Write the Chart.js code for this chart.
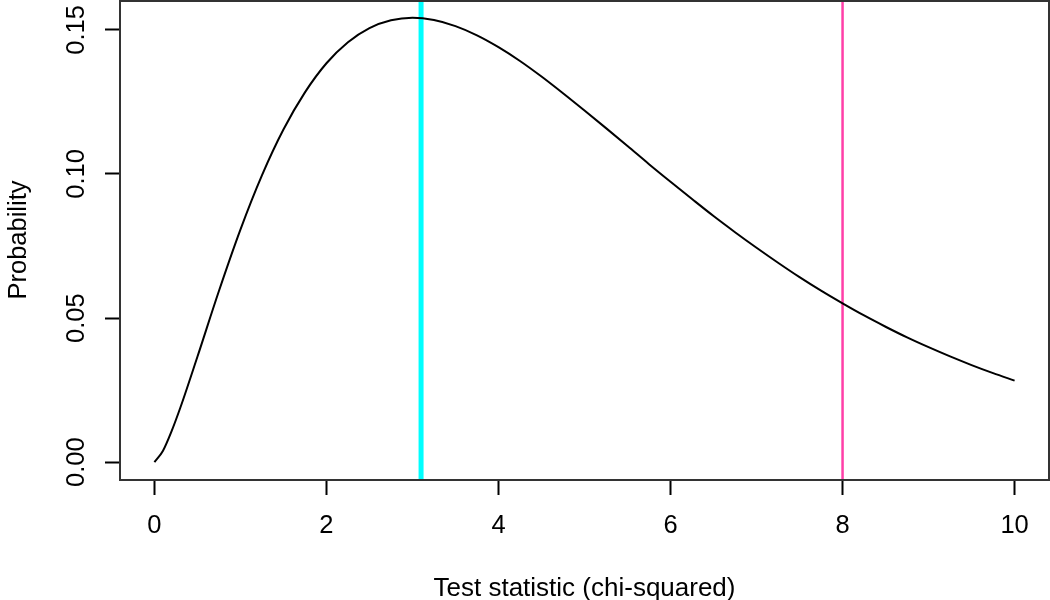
<!DOCTYPE html>
<html>
<head>
<meta charset="utf-8">
<script src="https://cdn.jsdelivr.net/npm/chart.js@4/dist/chart.umd.min.js"></script>
<style>
  html, body { margin: 0; padding: 0; background: #fff; }
  #wrap { width: 1050px; height: 600px; position: relative; }
</style>
</head>
<body>
<div id="wrap"><canvas id="chart"></canvas></div>
<script>
// Curve (x, density)
const curveX = [0, 0.1, 0.2, 0.3, 0.5, 0.75, 1, 1.25, 1.5, 1.75, 2, 2.25, 2.5, 2.75, 3,
  3.25, 3.5, 3.75, 4, 4.25, 4.5, 4.75, 5, 5.25, 5.5, 5.75, 6, 6.25, 6.5, 6.75, 7,
  7.25, 7.5, 7.75, 8, 8.25, 8.5, 8.75, 9, 9.25, 9.5, 9.75, 10];
const curveY = [0, 0.0040, 0.0108, 0.0188, 0.0366, 0.0594, 0.0807, 0.0995, 0.1154, 0.1283,
  0.1384, 0.1457, 0.1506, 0.1533, 0.1542, 0.1534, 0.1513, 0.1481, 0.1440, 0.1392,
  0.1338, 0.1280, 0.1220, 0.1159, 0.1097, 0.1034, 0.0973, 0.0913, 0.0854, 0.0798,
  0.0744, 0.0692, 0.0642, 0.0595, 0.0551, 0.0509, 0.0470, 0.0433, 0.0399, 0.0367,
  0.0337, 0.0309, 0.0283];

// Vertical marker lines
const observedStat = 3.1;
const criticalStat = 8;

const xTicks = [0, 2, 4, 6, 8, 10];
const yTicks = [0, 0.05, 0.10, 0.15];

const FONT = '"Liberation Sans", Arial, Helvetica, sans-serif';

const curveData = curveX.map((x, i) => ({ x: x, y: curveY[i] }));
const vline = x => [{ x: x, y: -1 }, { x: x, y: 1 }];

// box, rotated y labels and axis titles, R style
const rStyle = {
  id: 'rStyle',
  afterDraw(chart) {
    const ctx = chart.ctx;
    const area = chart.chartArea;
    const yScale = chart.scales.y;
    ctx.save();
    ctx.strokeStyle = '#333';
    ctx.lineWidth = 2;
    ctx.strokeRect(area.left, area.top + 1, area.right - area.left, area.bottom - area.top - 1);

    ctx.fillStyle = '#000';
    ctx.font = '25.5px ' + FONT;
    ctx.textAlign = 'center';
    ctx.textBaseline = 'alphabetic';
    yScale.ticks.forEach(t => {
      const py = yScale.getPixelForValue(t.value);
      ctx.save();
      ctx.translate(84, py);
      ctx.rotate(-Math.PI / 2);
      ctx.fillText(t.value.toFixed(2), 0, 0);
      ctx.restore();
    });

    // y title
    ctx.save();
    ctx.translate(26, (area.top + area.bottom) / 2);
    ctx.rotate(-Math.PI / 2);
    ctx.fillText('Probability', 0, 0);
    ctx.restore();

    // x title
    ctx.font = '26px ' + FONT;
    ctx.fillText('Test statistic (chi-squared)', (area.left + area.right) / 2, 596);
    ctx.restore();
  }
};

new Chart(document.getElementById('chart'), {
  type: 'line',
  data: {
    datasets: [
      {
        data: curveData,
        borderColor: '#000',
        borderWidth: 2,
        pointRadius: 0,
        cubicInterpolationMode: 'monotone',
        fill: false
      },
      {
        data: vline(observedStat),
        borderColor: '#00FFFF',
        borderWidth: 5,
        pointRadius: 0
      },
      {
        data: vline(criticalStat),
        borderColor: '#FF3FA8',
        borderWidth: 2.5,
        pointRadius: 0
      }
    ]
  },
  options: {
    responsive: true,
    maintainAspectRatio: false,
    animation: false,
    layout: { padding: { top: 0, right: 1, left: 0, bottom: 0 } },
    plugins: { legend: { display: false }, tooltip: { enabled: false } },
    scales: {
      x: {
        type: 'linear',
        min: -0.4,
        max: 10.4,
        afterBuildTicks: s => { s.ticks = xTicks.map(v => ({ value: v })); },
        afterFit: s => { s.height = 120; },
        border: { display: false },
        grid: {
          drawOnChartArea: false,
          drawTicks: true,
          tickLength: 15,
          tickColor: '#000',
          tickWidth: 2
        },
        ticks: {
          color: '#000',
          font: { family: FONT, size: 25.5 },
          padding: 16,
          maxRotation: 0,
          callback: v => String(v)
        }
      },
      y: {
        type: 'linear',
        min: -0.00617,
        max: 0.16035,
        afterBuildTicks: s => { s.ticks = yTicks.map(v => ({ value: v })); },
        afterFit: s => { s.width = 120; },
        border: { display: false },
        grid: {
          drawOnChartArea: false,
          drawTicks: true,
          tickLength: 15,
          tickColor: '#000',
          tickWidth: 2
        },
        ticks: { display: false }
      }
    }
  },
  plugins: [rStyle]
});
</script>
</body>
</html>
